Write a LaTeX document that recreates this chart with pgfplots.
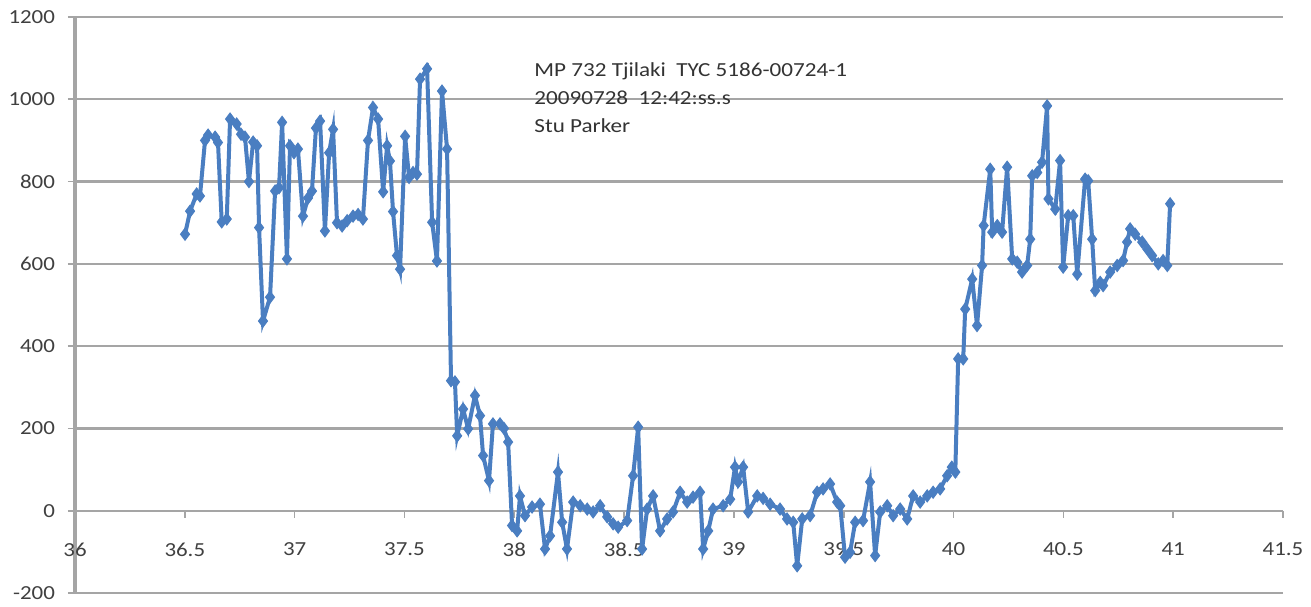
\documentclass[border=0pt]{standalone}
\usepackage{pgfplots}
\pgfplotsset{compat=1.18}
\usepackage{fontspec}
\setmainfont{Carlito}
\definecolor{series}{RGB}{74,126,193}
\definecolor{gridc}{RGB}{165,165,165}
\definecolor{labc}{RGB}{64,64,64}
\newcommand{\sx}[1]{\scalebox{1.15}[1]{#1}}
\begin{document}
\begin{tikzpicture}
\path[fill=white] (-37.5bp,-6.5bp) rectangle (618bp,296.5bp);
\begin{axis}[at={(0,0)},anchor=south west,scale only axis,
  width=604bp,height=288bp,
  xmin=36,xmax=41.5,ymin=-200,ymax=1200,
  axis x line*=middle, axis y line*=left,
  hide obscured x ticks=false, hide obscured y ticks=false,
  xtick={36,36.5,37,37.5,38,38.5,39,39.5,40,40.5,41,41.5},
  xticklabels={\sx{36},\sx{36.5},\sx{37},\sx{37.5},\sx{38},\sx{38.5},\sx{39},\sx{39.5},\sx{40},\sx{40.5},\sx{41},\sx{41.5}},
  ytick={-200,0,200,400,600,800,1000,1200},
  yticklabels={\sx{-200},\sx{0},\sx{200},\sx{400},\sx{600},\sx{800},\sx{1000},\sx{1200}},
  ymajorgrids, grid style={gridc,line width=1.1bp},
  x axis line style={gridc,line width=1.1bp},
  y axis line style={gridc,line width=1.7bp},
  tick style={gridc,line width=0.8bp},
  major tick length=3.5bp, tick align=outside,
  ticklabel style={font=\fontsize{10}{12}\selectfont,text=labc},
  xticklabel style={yshift=-9bp},
  yticklabel style={xshift=-3bp},
  clip=false]
\addplot[series,line width=2bp,mark=diamond*,mark size=3bp,
  mark options={fill=series,draw=series,line width=0.5bp}] table {
x y
36.501 672
36.524 728
36.554 770
36.569 765
36.592 900
36.606 913
36.638 908
36.651 895
36.668 702
36.691 709
36.706 952
36.736 940
36.756 915
36.774 908
36.792 800
36.811 896
36.829 887
36.838 688
36.856 461
36.888 519
36.911 777
36.929 785
36.943 944
36.965 612
36.979 887
36.997 870
37.015 879
37.038 716
37.061 760
37.079 777
37.097 930
37.116 947
37.138 680
37.157 870
37.175 927
37.193 700
37.216 692
37.239 705
37.266 716
37.289 720
37.311 709
37.334 900
37.357 980
37.380 952
37.403 775
37.421 887
37.434 850
37.448 727
37.466 620
37.480 587
37.503 910
37.521 810
37.539 822
37.557 818
37.571 1049
37.603 1074
37.626 701
37.648 607
37.671 1020
37.694 879
37.712 316
37.730 313
37.740 182
37.767 247
37.790 199
37.821 280
37.844 231
37.858 134
37.885 73
37.903 211
37.935 211
37.953 200
37.972 167
37.990 -36
38.013 -49
38.026 36
38.049 -12
38.081 9
38.117 16
38.140 -93
38.163 -61
38.199 94
38.218 -28
38.240 -93
38.268 21
38.300 12
38.332 4
38.359 -3
38.391 12
38.423 -15
38.450 -32
38.473 -40
38.514 -24
38.541 85
38.564 203
38.582 -93
38.605 4
38.632 36
38.664 -49
38.696 -20
38.723 -3
38.755 45
38.787 21
38.814 33
38.846 45
38.860 -93
38.883 -49
38.905 4
38.951 12
38.983 28
39.005 106
39.019 70
39.042 106
39.065 -3
39.106 36
39.133 30
39.165 16
39.210 4
39.242 -20
39.270 -28
39.288 -134
39.311 -20
39.347 -12
39.379 45
39.406 53
39.438 65
39.470 21
39.484 12
39.506 -113
39.529 -101
39.552 -28
39.588 -24
39.620 70
39.643 -109
39.666 -3
39.698 12
39.725 -12
39.757 4
39.789 -20
39.816 36
39.848 21
39.880 36
39.907 45
39.939 53
39.971 85
39.992 106
40.008 94
40.021 369
40.044 369
40.053 490
40.085 563
40.107 450
40.130 596
40.137 693
40.167 830
40.176 677
40.199 693
40.221 677
40.244 835
40.267 612
40.290 604
40.312 580
40.335 596
40.349 660
40.358 814
40.381 822
40.403 847
40.426 984
40.432 758
40.463 733
40.485 851
40.499 592
40.522 717
40.545 717
40.563 575
40.599 806
40.613 802
40.631 660
40.645 535
40.668 555
40.681 547
40.713 580
40.745 596
40.772 608
40.790 653
40.804 685
40.827 672
40.859 653
40.882 636
40.904 620
40.932 600
40.954 608
40.973 596
40.986 746
};
\node[anchor=north west,inner sep=0pt,text=black!80,font=\fontsize{10}{14}\selectfont]
  at (axis cs:38.09,1103) {\scalebox{1.16}[1]{\begin{tabular}{@{}l@{}}MP 732 Tjilaki\ \ TYC 5186-00724-1\\[0pt]20090728\ \ 12:42:ss.s\\[0pt]Stu Parker\end{tabular}}};
\end{axis}
\end{tikzpicture}
\end{document}
